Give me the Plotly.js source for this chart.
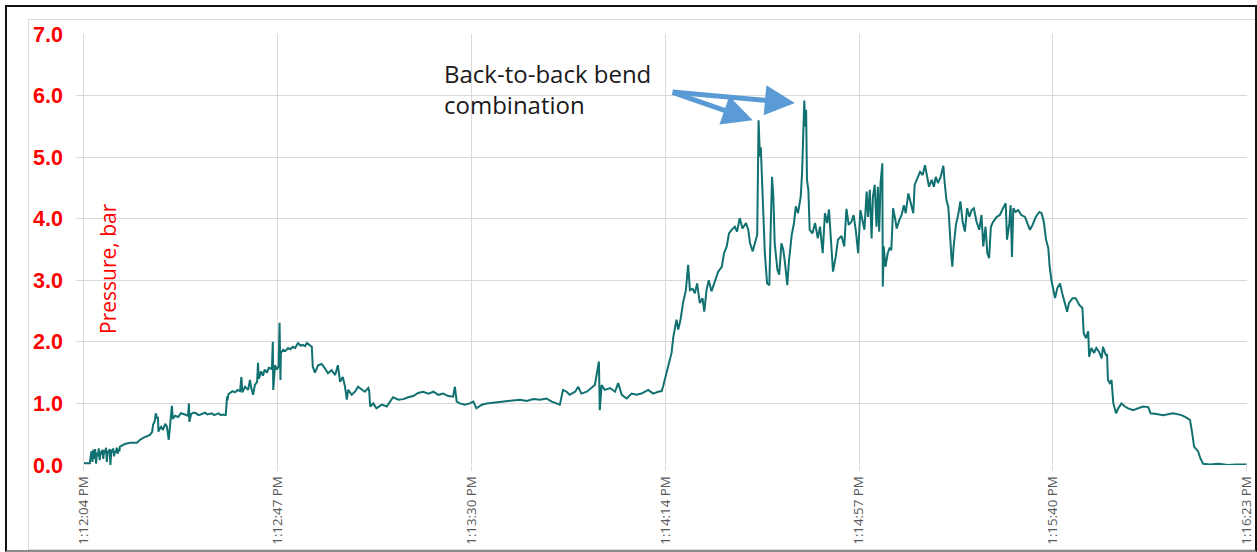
<!DOCTYPE html>
<html>
<head>
<meta charset="utf-8">
<script src="https://cdn.plot.ly/plotly-3.0.1.min.js"></script>
<style>
  html, body { margin: 0; padding: 0; background: #ffffff; overflow: hidden; }
  #wrap { position: relative; width: 1257px; height: 552px; overflow: hidden; }
  #chart { position: absolute; left: 0; top: 0; width: 1257px; height: 552px; }
  #inner { position: absolute; left: 28px; top: 19px; width: 1240px; height: 529px;
           border: 1px solid #dcdcdc; pointer-events: none; }
  #frame { position: absolute; left: 5px; top: 5px; width: 1248px; height: 543px;
           border-left: 2px solid #111; border-top: 2px solid #111; border-right: 2px solid #111;
           border-bottom: 2px solid #8c8c8c; pointer-events: none; }
</style>
</head>
<body>
<div id="wrap">
  <div id="chart"></div>
  <div id="inner"></div>
  <div id="frame"></div>
</div>
<script>
// elapsed time in seconds since 1:12:04 PM
const timeSec = [
  0.0,1.3,1.6,1.7,1.9,2.1,2.3,2.5,2.7,2.9,3.1,3.3,3.5,3.7,3.9,4.1,4.3,4.5,4.7,4.9,
  5.1,5.3,5.5,5.7,5.9,6.1,6.3,6.5,6.7,6.9,7.1,7.3,7.5,7.7,7.9,8.0,9.1,10.3,11.8,12.5,
  13.2,14.0,14.7,15.2,15.4,15.8,16.0,16.3,16.5,16.6,16.8,17.2,17.6,18.1,18.5,18.9,19.2,19.6,19.8,20.3,
  21.0,21.6,22.5,23.2,23.4,23.5,23.9,24.5,25.0,25.5,26.0,26.5,27.0,27.5,28.0,28.5,29.0,29.5,30.0,30.5,
  31.0,31.6,31.9,32.0,32.2,32.5,33.1,33.7,34.2,34.8,35.1,35.3,35.9,36.6,37.0,37.3,37.7,38.1,38.6,38.8,
  39.0,39.5,39.9,40.3,40.8,41.2,41.9,42.1,42.2,42.6,43.0,43.4,43.6,43.8,43.9,44.4,44.9,45.5,46.0,46.6,
  47.1,47.7,48.3,48.8,49.3,49.7,50.4,50.8,51.0,51.5,52.2,53.0,53.7,54.4,55.2,56.0,56.6,57.1,57.7,58.2,
  58.6,58.9,59.7,60.4,61.1,61.9,62.6,63.4,63.6,63.8,64.5,65.2,66.4,67.5,68.2,68.9,70.1,71.2,72.3,73.4,
  74.5,75.6,76.8,77.9,79.0,80.1,81.2,82.3,82.7,83.1,83.8,84.9,86.0,86.8,87.5,88.7,89.8,91.2,92.7,94.2,
  95.7,97.2,98.7,100.2,101.7,103.1,104.3,105.4,106.1,106.8,107.6,108.3,109.5,110.2,110.9,112.1,113.2,113.9,114.8,115.0,
  115.4,116.1,117.3,118.4,119.1,119.9,121.0,122.1,123.2,124.3,125.8,126.9,128.0,128.8,129.1,130.3,131.0,131.4,131.7,132.1,
  132.5,133.0,133.6,134.2,134.7,135.1,135.7,136.2,136.7,137.3,137.9,138.3,138.8,139.3,139.9,140.7,141.4,142.2,142.7,143.3,
  143.8,144.4,145.1,145.6,146.2,146.8,147.6,148.1,148.5,149.1,149.6,150.1,150.4,150.7,150.9,151.3,151.8,152.3,152.8,153.1,
  153.4,153.7,154.0,154.6,155.0,155.5,155.9,156.3,156.8,157.2,157.8,158.3,158.7,159.2,159.8,160.1,160.3,160.6,160.8,161.0,
  161.2,161.5,161.8,162.4,163.0,163.6,164.1,164.7,165.2,165.7,166.1,166.5,167.0,167.6,168.1,168.9,169.5,170.0,170.5,171.1,
  171.6,172.1,172.6,173.1,173.5,174.0,174.5,174.8,175.2,175.6,175.9,176.3,176.7,177.0,177.3,177.6,178.0,178.1,178.3,178.7,
  179.2,179.6,180.0,180.4,180.9,181.2,181.8,182.3,182.8,183.2,183.8,184.3,184.9,185.2,185.8,186.4,187.0,187.5,188.0,188.4,
  189.0,189.5,189.9,190.4,191.0,191.6,191.9,192.3,192.7,193.0,193.4,193.6,193.9,194.4,194.9,195.4,195.9,196.4,196.9,197.4,
  197.9,198.4,199.0,199.6,200.1,200.5,201.0,201.4,201.8,202.2,202.7,203.5,204.2,204.9,205.5,205.8,206.3,206.6,206.9,207.2,
  207.7,208.3,209.0,209.8,210.3,210.9,211.5,212.2,213.0,213.5,214.0,214.5,215.0,215.3,215.7,216.1,216.5,217.0,217.6,218.1,
  218.7,219.2,219.6,220.4,221.1,221.9,222.6,222.9,223.4,223.9,224.1,224.6,225.2,225.7,226.3,226.9,227.2,227.8,228.1,228.3,
  228.7,229.1,229.5,230.1,230.6,231.3,232.1,232.8,233.9,235.0,236.1,237.3,237.8,239.1,240.6,242.8,244.7,245.8,246.6,247.1,
  247.5,248.4,248.9,249.5,251.0,253.0,255.0,257.0,259.2
];

// pressure in bar
const pressureBar = [
  0.03,0.03,0.2,0.22,0.05,0.25,0.1,0.26,0.02,0.2,0.14,0.27,0.08,0.22,0.17,0.25,0.1,0.24,0.19,0.28,
  0.05,0.23,0.2,0.26,0.0,0.25,0.21,0.27,0.14,0.22,0.2,0.28,0.18,0.26,0.22,0.3,0.34,0.36,0.36,0.41,
  0.44,0.46,0.49,0.54,0.65,0.72,0.84,0.76,0.78,0.54,0.58,0.62,0.57,0.67,0.62,0.41,0.68,0.96,0.75,0.8,
  0.78,0.84,0.82,0.8,1.0,0.7,0.83,0.85,0.84,0.81,0.82,0.84,0.85,0.82,0.83,0.84,0.81,0.83,0.84,0.81,
  0.82,0.81,1.11,1.05,1.15,1.17,1.2,1.18,1.22,1.2,1.43,1.18,1.27,1.22,1.38,1.25,1.14,1.3,1.35,1.66,
  1.4,1.52,1.45,1.55,1.5,1.58,1.56,2.0,1.22,1.62,1.55,1.6,2.31,1.38,1.82,1.87,1.85,1.9,1.88,1.92,
  1.9,1.98,1.94,1.95,1.93,1.98,1.95,1.92,1.6,1.5,1.62,1.64,1.57,1.49,1.54,1.46,1.62,1.35,1.43,1.27,
  1.06,1.22,1.14,1.19,1.27,1.22,1.19,1.25,1.2,0.95,1.0,0.92,0.98,0.95,1.02,1.1,1.06,1.07,1.1,1.12,
  1.17,1.19,1.16,1.19,1.14,1.16,1.12,1.11,1.27,1.03,1.0,0.98,1.0,1.03,0.92,0.98,1.0,1.01,1.03,1.03,
  1.04,1.06,1.04,1.07,1.06,1.08,1.03,1.0,0.98,1.22,1.19,1.14,1.19,1.27,1.16,1.19,1.25,1.3,1.68,0.89,
  1.3,1.22,1.25,1.19,1.33,1.14,1.08,1.16,1.14,1.16,1.22,1.16,1.19,1.2,1.27,1.6,1.82,2.08,2.22,2.36,
  2.2,2.36,2.65,2.84,3.25,2.84,2.86,2.79,2.95,2.63,2.71,2.49,2.84,3.0,2.82,2.98,3.14,3.22,3.44,3.55,
  3.76,3.82,3.87,3.79,4.01,3.84,3.93,3.82,3.6,3.47,3.6,3.74,5.6,5.01,5.16,4.3,3.44,2.95,2.92,3.82,
  4.68,4.36,3.6,3.17,3.09,3.6,3.5,3.28,2.92,3.33,3.74,3.93,4.2,4.09,4.36,4.74,5.44,5.92,5.5,5.77,
  4.63,4.47,3.82,3.76,3.93,3.68,3.87,3.44,4.09,3.93,4.15,3.6,3.14,3.38,3.66,3.72,3.55,4.16,3.9,3.95,
  4.06,3.8,3.44,4.14,4.01,3.82,4.44,4.03,4.47,3.68,4.36,4.55,3.87,4.52,3.79,4.58,4.9,2.9,3.55,3.22,
  3.44,3.52,3.49,4.17,3.98,3.84,3.98,4.06,4.22,4.09,4.41,4.25,4.09,4.55,4.66,4.76,4.71,4.87,4.68,4.52,
  4.63,4.52,4.68,4.58,4.68,4.86,4.58,4.3,4.2,3.76,3.38,3.22,3.55,3.9,4.06,4.28,3.95,3.79,4.17,4.03,
  4.14,4.17,3.95,3.82,4.06,3.55,3.87,3.44,3.36,3.87,3.95,4.03,4.06,4.17,4.25,3.66,3.92,4.22,3.38,4.17,
  4.11,4.14,4.06,4.03,3.92,3.82,3.9,4.03,4.11,4.09,3.95,3.66,3.52,3.22,3.0,2.84,2.71,2.87,2.95,2.79,
  2.63,2.49,2.63,2.71,2.71,2.6,2.55,2.14,2.06,2.17,1.76,1.9,1.82,1.9,1.84,1.73,1.92,1.79,1.79,1.38,
  1.33,1.38,1.0,0.84,0.92,1.0,0.95,0.92,0.89,0.92,0.95,0.94,0.84,0.83,0.81,0.84,0.81,0.77,0.73,0.51,
  0.3,0.22,0.11,0.02,0.01,0.02,0.0,0.01,0.01
];

const tickSeconds = [0, 43.2, 86.4, 129.6, 172.8, 216.0, 259.2];
const tickLabels = ['1:12:04 PM','1:12:47 PM','1:13:30 PM','1:14:14 PM','1:14:57 PM','1:15:40 PM','1:16:23 PM'];
const yTickValues = [0,1,2,3,4,5,6,7];
const yTickLabels = ['0.0','1.0','2.0','3.0','4.0','5.0','6.0','7.0'];

const noteText = 'Back-to-back bend<br>combination';
const yLabelText = 'Pressure, bar';
// annotation arrow tips (peaks) and common tail, in data units [seconds, bar]
const arrowTail = [130.9, 6.06];
const arrowTips = [[149.1, 5.60], [158.5, 5.88]];

const trace = {
  x: timeSec,
  y: pressureBar,
  type: 'scatter',
  mode: 'lines',
  line: { color: '#117070', width: 2 },
  hoverinfo: 'skip'
};

const annotations = [
  {
    text: noteText, xref: 'x', yref: 'y', x: 79.8, y: 6.66,
    xanchor: 'left', yanchor: 'top', align: 'left', showarrow: false,
    font: { family: 'Open Sans', size: 24, color: '#1a1a1a' }
  },
  {
    text: yLabelText, xref: 'x', yref: 'y', x: 5.35, y: 3.2,
    xanchor: 'center', yanchor: 'middle', textangle: -90, showarrow: false,
    font: { family: 'Open Sans', size: 21, color: '#ff0000' }
  }
];
arrowTips.forEach(function (tip) {
  annotations.push({
    text: '', xref: 'x', yref: 'y', x: tip[0], y: tip[1],
    axref: 'x', ayref: 'y', ax: arrowTail[0], ay: arrowTail[1],
    showarrow: true, arrowhead: 2, arrowsize: 1.2, arrowwidth: 5,
    arrowcolor: '#5b9bd5', standoff: 0, startstandoff: 0
  });
});

const layout = {
  width: 1257,
  height: 552,
  margin: { l: 76, r: 10, t: 34, b: 87, pad: 0 },
  paper_bgcolor: 'rgba(0,0,0,0)',
  plot_bgcolor: 'rgba(0,0,0,0)',
  showlegend: false,
  xaxis: {
    range: [-1.78, 259.3],
    tickmode: 'array',
    tickvals: tickSeconds,
    ticktext: tickLabels,
    tickangle: -90,
    tickfont: { family: 'Open Sans', size: 13.3, color: '#595959' },
    ticks: 'outside', ticklen: 5, tickcolor: '#d9d9d9', tickwidth: 1,
    showgrid: true, gridcolor: '#d9d9d9', gridwidth: 1,
    zeroline: false, showline: false, fixedrange: true
  },
  yaxis: {
    range: [0, 7],
    tickmode: 'array',
    tickvals: yTickValues,
    ticktext: yTickLabels,
    tickfont: { family: 'Liberation Sans', size: 21.5, color: '#ff0000', weight: 'bold' },
    ticks: '', ticklabelstandoff: 12,
    showgrid: true, gridcolor: '#d9d9d9', gridwidth: 1,
    zeroline: false, showline: false, fixedrange: true
  },
  annotations: annotations
};

Plotly.newPlot('chart', [trace], layout, { staticPlot: true, displayModeBar: false });
</script>
</body>
</html>
